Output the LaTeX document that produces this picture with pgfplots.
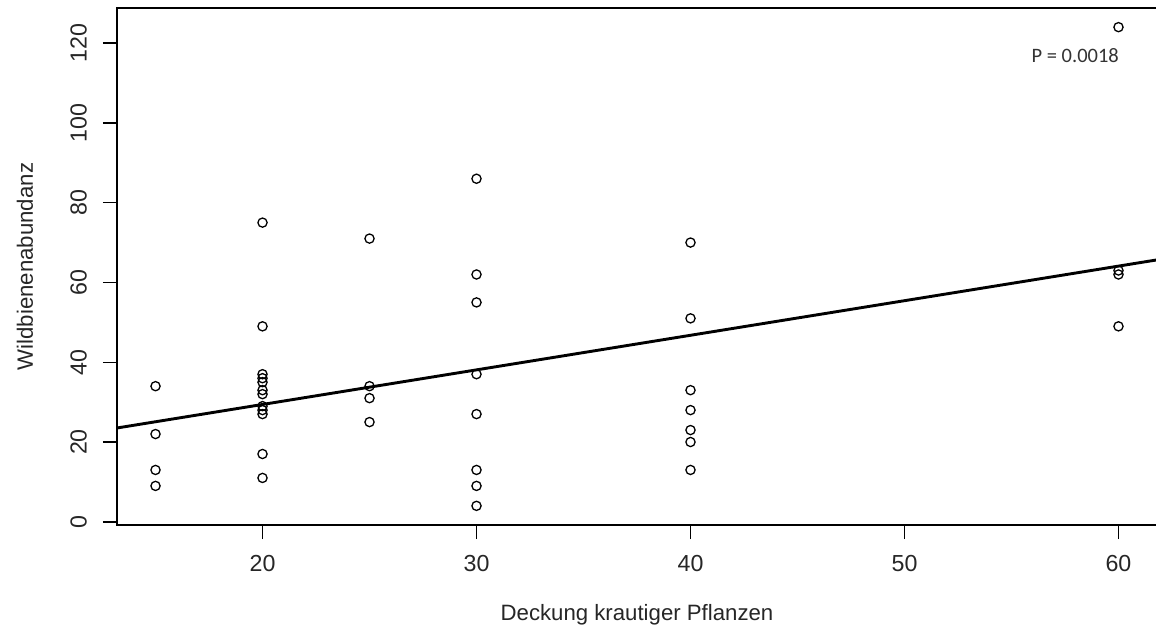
\documentclass[border=0pt]{standalone}
\usepackage{pgfplots}
\pgfplotsset{compat=1.18}
\usepackage{fontspec}
\setmainfont{Liberation Sans}
\newfontfamily\calibri{Carlito}
\begin{document}
\begin{tikzpicture}
\useasboundingbox (0,0) rectangle (578pt,318.5pt);
\begin{axis}[
  at={(58.5pt,56pt)}, anchor=south west,
  scale only axis, width=520pt, height=258.5pt,
  xmin=13.2, xmax=61.8, ymin=-0.8, ymax=128.8,
  xtick={20,30,40,50,60}, ytick={0,20,40,60,80,100,120},
  axis line style={line width=0.7pt, black},
  tick align=outside, major tick length=7pt,
  tick style={line width=0.7pt, black},
  xtick pos=bottom, ytick pos=left,
  /pgf/number format/assume math mode=true,
  every tick label/.append style={font=\fontsize{11.6}{13}\selectfont, text=black!85},
  xticklabel shift=4.5pt,
  yticklabel style={rotate=90, anchor=south},
  yticklabel shift=4.5pt,
  xlabel={Deckung krautiger Pflanzen},
  ylabel={Wildbienenabundanz},
  label style={font=\fontsize{11.1}{13}\selectfont, text=black!85},
  xlabel style={at={(axis description cs:0.5,-0.185)}, anchor=base},
  ylabel style={at={(axis description cs:-0.0885,0.5)}, anchor=center},
  clip=false,
]
\addplot[only marks, mark=o, mark size=2.3pt, mark options={line width=0.65pt, black}] table {
x y
15 34
15 22
15 13
15 9
20 75
20 49
20 37
20 36
20 35
20 33
20 32
20 29
20 28
20 27
20 17
20 11
25 71
25 34
25 31
25 25
30 86
30 62
30 55
30 37
30 27
30 13
30 9
30 4
40 70
40 51
40 33
40 28
40 23
40 20
40 13
60 124
60 63
60 62
60 49
};
\addplot[black, line width=1.45pt] coordinates {(13.2,23.52) (61.8,65.66)};
\node[font=\calibri\fontsize{10.25}{12}\selectfont, text=black!80] at (axis cs:57.98,116.8) {P = 0.0018};
\end{axis}
\end{tikzpicture}
\end{document}
